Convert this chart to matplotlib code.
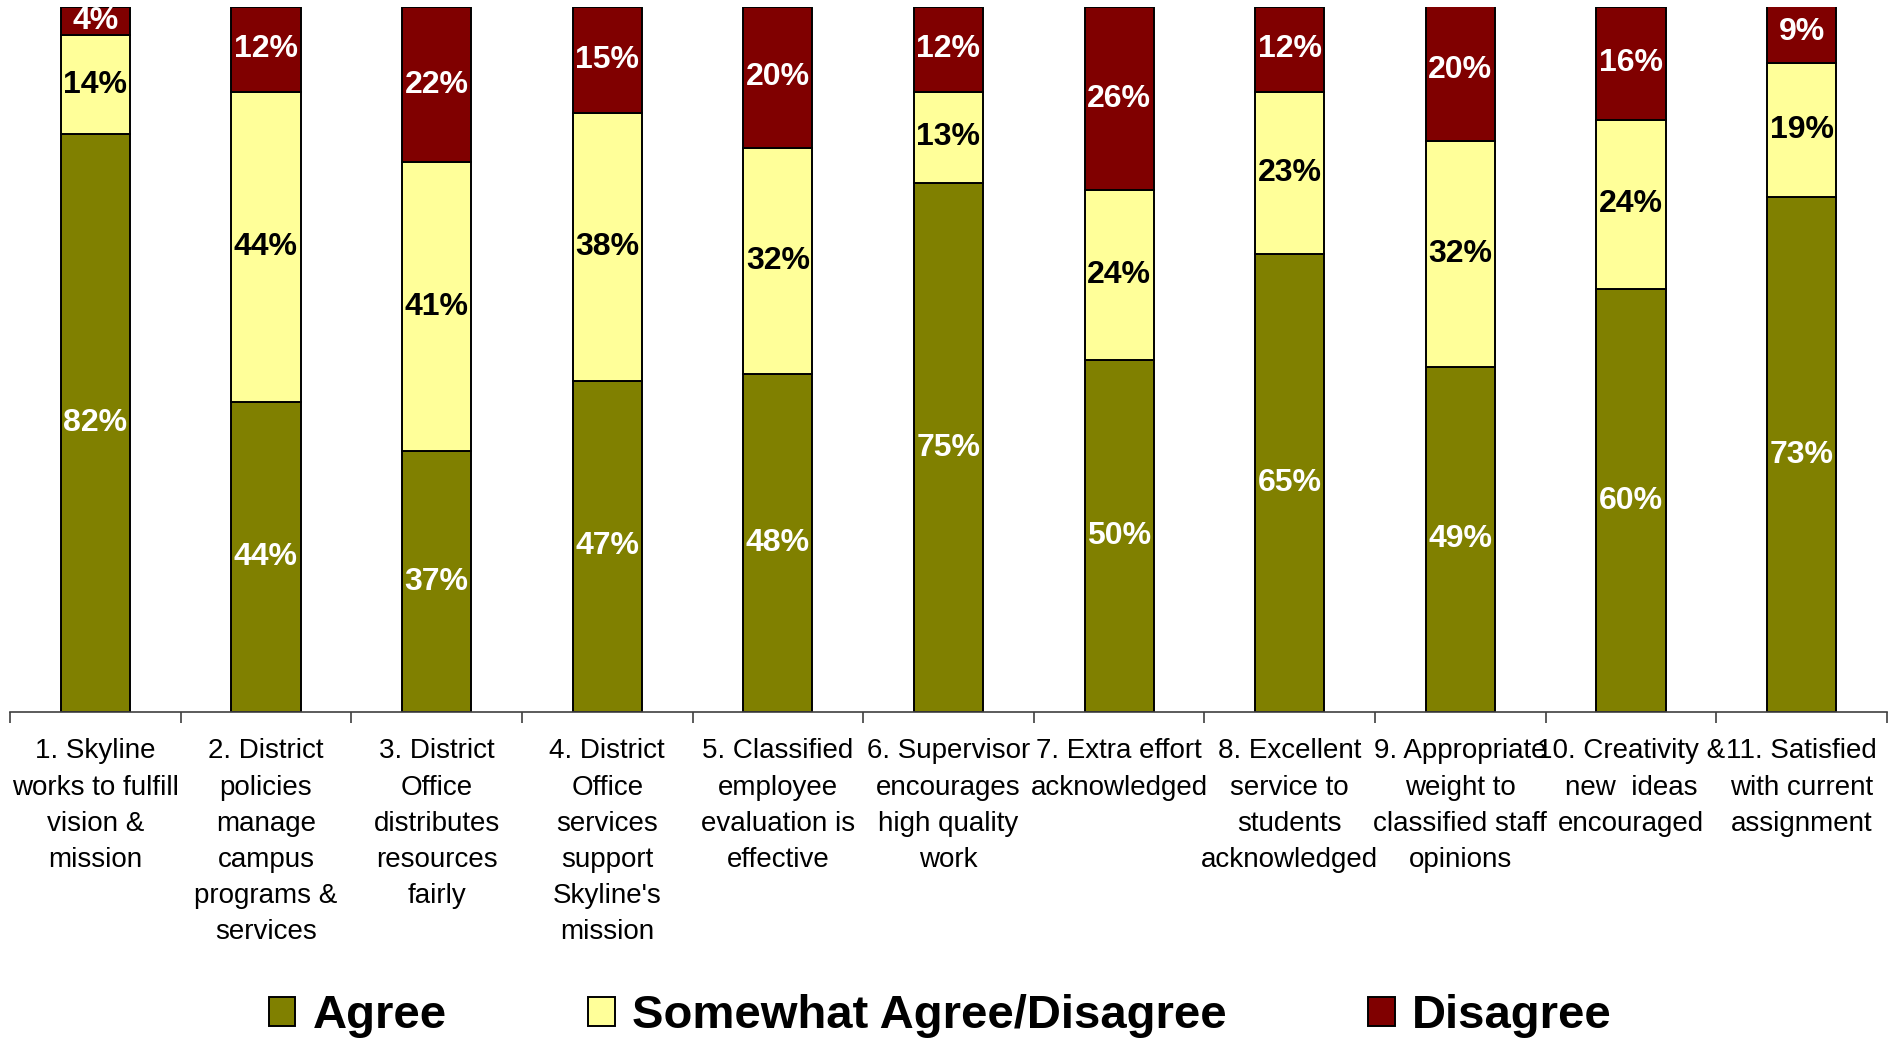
import numpy as np
import matplotlib
matplotlib.use('Agg')
import matplotlib.pyplot as plt

plt.rcParams['font.family'] = ['Liberation Sans', 'DejaVu Sans']

# data
categories = ["1. Skyline\nworks to fulfill\nvision &\nmission",
              "2. District\npolicies\nmanage\ncampus\nprograms &\nservices",
              "3. District\nOffice\ndistributes\nresources\nfairly",
              "4. District\nOffice\nservices\nsupport\nSkyline's\nmission",
              "5. Classified\nemployee\nevaluation is\neffective",
              "6. Supervisor\nencourages\nhigh quality\nwork",
              "7. Extra effort\nacknowledged",
              "8. Excellent\nservice to\nstudents\nacknowledged",
              "9. Appropriate\nweight to\nclassified staff\nopinions",
              "10. Creativity &\nnew  ideas\nencouraged",
              "11. Satisfied\nwith current\nassignment"]
agree = [82, 44, 37, 47, 48, 75, 50, 65, 49, 60, 73]
somewhat = [14, 44, 41, 38, 32, 13, 24, 23, 32, 24, 19]
disagree = [4, 12, 22, 15, 20, 12, 26, 12, 20, 16, 9]

series_names = ['Agree', 'Somewhat Agree/Disagree', 'Disagree']
colors = ['#808000', '#FFFF99', '#800000']
text_colors = ['white', 'black', 'white']

fig = plt.figure(figsize=(18.92, 10.38), dpi=100)
ax = fig.add_axes([0.0053, 0.314, 0.992, 0.6793])

x = np.arange(len(categories))
bottom = np.zeros(len(categories))
for vals, name, col, tcol in zip([agree, somewhat, disagree], series_names, colors, text_colors):
    vals = np.array(vals, dtype=float)
    ax.bar(x, vals, 0.405, bottom=bottom, color=col, edgecolor='black', linewidth=1.4, label=name)
    for xi, b, v in zip(x, bottom, vals):
        ax.text(xi, b + v / 2, '{:d}%'.format(int(v)), ha='center', va='center',
                color=tcol, fontsize=23, fontweight='bold')
    bottom = bottom + vals

ax.set_xlim(-0.5, len(categories) - 0.5)
ax.set_ylim(0, 100)
for s in ['left', 'right', 'top']:
    ax.spines[s].set_visible(False)
ax.spines['bottom'].set_color('#404040')
ax.spines['bottom'].set_linewidth(1.2)
ax.set_yticks([])
ax.set_xticks(x)
ax.set_xticklabels(categories, fontsize=20, linespacing=1.51)
ax.tick_params(axis='x', which='major', length=0, pad=19)
ax.set_xticks(np.arange(len(categories) + 1) - 0.5, minor=True)
ax.tick_params(axis='x', which='minor', length=8, width=1.2, color='#404040')

fig.legend(loc='center', bbox_to_anchor=(0.497, 0.021), ncol=3, frameon=False,
           prop={'size': 34, 'weight': 'bold'}, handlelength=0.57, handleheight=0.57,
           handletextpad=0.36, columnspacing=3.0, borderaxespad=0)

fig.savefig('out.png', dpi=100)
